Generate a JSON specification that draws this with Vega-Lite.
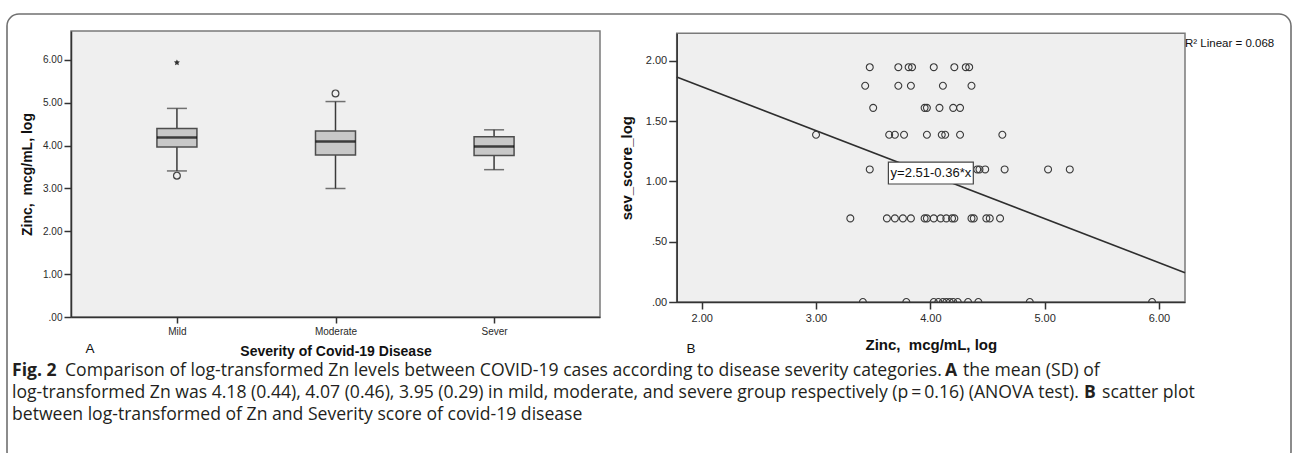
{
  "$schema": "https://vega.github.io/schema/vega-lite/v6.json",
  "width": 1284,
  "height": 450,
  "autosize": {"type": "none"},
  "padding": {"left": 7, "top": 14, "right": 1, "bottom": 0},
  "background": "white",
  "config": {
    "view": {"stroke": "#707070", "strokeWidth": 1.6, "cornerRadius": 12, "fill": "white"},
    "font": "Liberation Sans",
    "axis": {"grid": false, "labelFont": "Liberation Sans", "titleFont": "Liberation Sans", "labelColor": "#2a2a2a", "titleColor": "#111111", "domainColor": "#333333", "tickColor": "#333333", "domainWidth": 1.5, "tickWidth": 1.5, "titleFontWeight": "bold"},
    "text": {"font": "Liberation Sans"}
  },
  "datasets": {
    "one": [{}],
    "boxstats": [
      {"severity": "Mild", "lower": 3.41, "q1": 3.97, "median": 4.19, "q3": 4.40, "upper": 4.87},
      {"severity": "Moderate", "lower": 3.00, "q1": 3.78, "median": 4.10, "q3": 4.34, "upper": 5.03},
      {"severity": "Sever", "lower": 3.44, "q1": 3.77, "median": 3.98, "q3": 4.21, "upper": 4.37}
    ],
    "outliers": [
      {"severity": "Mild", "zinc": 3.30, "kind": "outlier"},
      {"severity": "Mild", "zinc": 5.94, "kind": "extreme"},
      {"severity": "Moderate", "zinc": 5.22, "kind": "outlier"}
    ],
    "scatter": [
      {"zinc": 3.47, "sev": 1.946}, {"zinc": 3.72, "sev": 1.946}, {"zinc": 3.81, "sev": 1.946}, {"zinc": 3.84, "sev": 1.946},
      {"zinc": 4.03, "sev": 1.946}, {"zinc": 4.21, "sev": 1.946}, {"zinc": 4.31, "sev": 1.946}, {"zinc": 4.34, "sev": 1.946},
      {"zinc": 3.43, "sev": 1.792}, {"zinc": 3.72, "sev": 1.792}, {"zinc": 3.83, "sev": 1.792}, {"zinc": 4.11, "sev": 1.792}, {"zinc": 4.36, "sev": 1.792},
      {"zinc": 3.50, "sev": 1.609}, {"zinc": 3.95, "sev": 1.609}, {"zinc": 3.97, "sev": 1.609}, {"zinc": 4.08, "sev": 1.609}, {"zinc": 4.20, "sev": 1.609}, {"zinc": 4.26, "sev": 1.609},
      {"zinc": 3.00, "sev": 1.386}, {"zinc": 3.64, "sev": 1.386}, {"zinc": 3.69, "sev": 1.386}, {"zinc": 3.77, "sev": 1.386}, {"zinc": 3.97, "sev": 1.386},
      {"zinc": 4.10, "sev": 1.386}, {"zinc": 4.13, "sev": 1.386}, {"zinc": 4.26, "sev": 1.386}, {"zinc": 4.63, "sev": 1.386},
      {"zinc": 3.47, "sev": 1.099}, {"zinc": 4.41, "sev": 1.099}, {"zinc": 4.43, "sev": 1.099}, {"zinc": 4.48, "sev": 1.099}, {"zinc": 4.65, "sev": 1.099}, {"zinc": 5.03, "sev": 1.099}, {"zinc": 5.22, "sev": 1.099},
      {"zinc": 3.30, "sev": 0.693}, {"zinc": 3.62, "sev": 0.693}, {"zinc": 3.69, "sev": 0.693}, {"zinc": 3.76, "sev": 0.693}, {"zinc": 3.83, "sev": 0.693},
      {"zinc": 3.95, "sev": 0.693}, {"zinc": 3.97, "sev": 0.693}, {"zinc": 4.03, "sev": 0.693}, {"zinc": 4.09, "sev": 0.693}, {"zinc": 4.14, "sev": 0.693},
      {"zinc": 4.19, "sev": 0.693}, {"zinc": 4.21, "sev": 0.693}, {"zinc": 4.36, "sev": 0.693}, {"zinc": 4.38, "sev": 0.693}, {"zinc": 4.49, "sev": 0.693},
      {"zinc": 4.52, "sev": 0.693}, {"zinc": 4.61, "sev": 0.693},
      {"zinc": 3.41, "sev": 0}, {"zinc": 3.79, "sev": 0}, {"zinc": 4.03, "sev": 0}, {"zinc": 4.07, "sev": 0}, {"zinc": 4.11, "sev": 0},
      {"zinc": 4.14, "sev": 0}, {"zinc": 4.17, "sev": 0}, {"zinc": 4.20, "sev": 0}, {"zinc": 4.24, "sev": 0}, {"zinc": 4.33, "sev": 0},
      {"zinc": 4.42, "sev": 0}, {"zinc": 4.87, "sev": 0}, {"zinc": 5.94, "sev": 0}
    ],
    "fit": [{"zinc": 1.781, "sev": 1.865}, {"zinc": 6.228, "sev": 0.243}],
    "caption": [
      {"id": "panelA", "text": "A"},
      {"id": "panelB", "text": "B"},
      {"id": "fig", "text": "Fig. 2"},
      {"id": "l1a", "text": "Comparison of log-transformed Zn levels between COVID-19 cases according to disease severity categories."},
      {"id": "l1A", "text": "A"},
      {"id": "l1b", "text": "the mean (SD) of"},
      {"id": "l2a", "text": "log-transformed Zn was 4.18 (0.44), 4.07 (0.46), 3.95 (0.29) in mild, moderate, and severe group respectively (p\u2009=\u20090.16) (ANOVA test)."},
      {"id": "l2B", "text": "B"},
      {"id": "l2b", "text": "scatter plot"},
      {"id": "l3a", "text": "between log-transformed of Zn and Severity score of covid-19 disease"}
    ]
  },
  "layer": [
    {
      "data": {"name": "one"},
      "mark": {"type": "rect", "fill": "#efefef", "stroke": "#7a7a7a", "strokeWidth": 1.5},
      "encoding": {
        "x": {"datum": 0, "type": "quantitative", "scale": {"domain": [0, 1], "range": [64, 593], "nice": false, "zero": false}, "axis": null},
        "x2": {"datum": 1},
        "y": {"datum": 0, "type": "quantitative", "scale": {"domain": [0, 1], "range": [303, 17], "nice": false, "zero": false}, "axis": null},
        "y2": {"datum": 1}
      }
    },
    {
      "data": {"name": "boxstats"},
      "mark": {"type": "rule", "stroke": "#3a3a3a", "strokeWidth": 1.5},
      "encoding": {
        "x": {"field": "severity", "type": "nominal", "scale": {"type": "point", "domain": ["Mild", "Moderate", "Sever"], "range": [64, 593], "padding": 0.668},
              "axis": {"orient": "bottom", "offset": -147, "zindex": 1, "labelAngle": 0, "title": "Severity of Covid-19 Disease", "titleFontSize": 14, "titleBaseline": "middle", "titleY": 34.5, "labelFontSize": 10, "labelPadding": 3, "tickSize": 6}},
        "y": {"field": "lower", "type": "quantitative", "scale": {"domain": [0, 6.677], "range": [303, 17], "nice": false, "zero": false},
              "axis": {"orient": "left", "offset": -64, "zindex": 1, "values": [0, 1, 2, 3, 4, 5, 6], "labelExpr": "datum.value == 0 ? '.00' : format(datum.value, '.2f')", "labelFontSize": 10, "labelPadding": 2, "tickSize": 7, "title": "Zinc,\u00a0 mcg/mL, log", "titleFontSize": 14, "titleBaseline": "middle", "titleX": -43.5, "titleY": 160, "titleAngle": -90}},
        "y2": {"field": "upper"}
      }
    },
    {
      "data": {"name": "boxstats"},
      "mark": {"type": "tick", "color": "#3a3a3a", "size": 20, "thickness": 1.5},
      "encoding": {
        "x": {"field": "severity", "type": "nominal", "scale": {"type": "point", "domain": ["Mild", "Moderate", "Sever"], "range": [64, 593], "padding": 0.668}, "axis": null},
        "y": {"field": "lower", "type": "quantitative", "scale": {"domain": [0, 6.677], "range": [303, 17], "nice": false, "zero": false}, "axis": null}
      }
    },
    {
      "data": {"name": "boxstats"},
      "mark": {"type": "tick", "color": "#3a3a3a", "size": 20, "thickness": 1.5},
      "encoding": {
        "x": {"field": "severity", "type": "nominal", "scale": {"type": "point", "domain": ["Mild", "Moderate", "Sever"], "range": [64, 593], "padding": 0.668}, "axis": null},
        "y": {"field": "upper", "type": "quantitative", "scale": {"domain": [0, 6.677], "range": [303, 17], "nice": false, "zero": false}, "axis": null}
      }
    },
    {
      "data": {"name": "boxstats"},
      "mark": {"type": "bar", "size": 40, "fill": "#c8c8c8", "stroke": "#4d4d4d", "strokeWidth": 1.5},
      "encoding": {
        "x": {"field": "severity", "type": "nominal", "scale": {"type": "point", "domain": ["Mild", "Moderate", "Sever"], "range": [64, 593], "padding": 0.668}, "axis": null},
        "y": {"field": "q1", "type": "quantitative", "scale": {"domain": [0, 6.677], "range": [303, 17], "nice": false, "zero": false}, "axis": null},
        "y2": {"field": "q3"}
      }
    },
    {
      "data": {"name": "boxstats"},
      "mark": {"type": "tick", "color": "#000000", "size": 40, "thickness": 2.5},
      "encoding": {
        "x": {"field": "severity", "type": "nominal", "scale": {"type": "point", "domain": ["Mild", "Moderate", "Sever"], "range": [64, 593], "padding": 0.668}, "axis": null},
        "y": {"field": "median", "type": "quantitative", "scale": {"domain": [0, 6.677], "range": [303, 17], "nice": false, "zero": false}, "axis": null}
      }
    },
    {
      "data": {"name": "outliers"},
      "transform": [{"filter": "datum.kind == 'outlier'"}],
      "mark": {"type": "point", "shape": "circle", "filled": false, "stroke": "#444444", "strokeWidth": 1.2, "size": 46, "opacity": 1},
      "encoding": {
        "x": {"field": "severity", "type": "nominal", "scale": {"type": "point", "domain": ["Mild", "Moderate", "Sever"], "range": [64, 593], "padding": 0.668}, "axis": null},
        "y": {"field": "zinc", "type": "quantitative", "scale": {"domain": [0, 6.677], "range": [303, 17], "nice": false, "zero": false}, "axis": null}
      }
    },
    {
      "data": {"name": "outliers"},
      "transform": [{"filter": "datum.kind == 'extreme'"}],
      "mark": {"type": "point", "shape": "M0,-1L0.29,-0.4L0.95,-0.31L0.47,0.15L0.59,0.81L0,0.5L-0.59,0.81L-0.47,0.15L-0.95,-0.31L-0.29,-0.4Z", "filled": true, "color": "#333333", "size": 40, "opacity": 1},
      "encoding": {
        "x": {"field": "severity", "type": "nominal", "scale": {"type": "point", "domain": ["Mild", "Moderate", "Sever"], "range": [64, 593], "padding": 0.668}, "axis": null},
        "y": {"field": "zinc", "type": "quantitative", "scale": {"domain": [0, 6.677], "range": [303, 17], "nice": false, "zero": false}, "axis": null}
      }
    },
    {
      "data": {"name": "one"},
      "mark": {"type": "rect", "fill": "#efefef", "stroke": "#7a7a7a", "strokeWidth": 1.5},
      "encoding": {
        "x": {"datum": 1.781, "type": "quantitative", "scale": {"domain": [1.781, 6.228], "range": [669.7, 1178], "nice": false, "zero": false}, "axis": null},
        "x2": {"datum": 6.228},
        "y": {"datum": 0, "type": "quantitative", "scale": {"domain": [0, 2.227], "range": [288, 19.3], "nice": false, "zero": false}, "axis": null},
        "y2": {"datum": 2.227}
      }
    },
    {
      "data": {"name": "fit"},
      "mark": {"type": "line", "stroke": "#2e2e2e", "strokeWidth": 1.6},
      "encoding": {
        "x": {"field": "zinc", "type": "quantitative", "scale": {"domain": [1.781, 6.228], "range": [669.7, 1178], "nice": false, "zero": false}, "axis": null},
        "y": {"field": "sev", "type": "quantitative", "scale": {"domain": [0, 2.227], "range": [288, 19.3], "nice": false, "zero": false}, "axis": null}
      }
    },
    {
      "data": {"name": "scatter"},
      "mark": {"type": "point", "filled": false, "stroke": "#3a3a3a", "strokeWidth": 1.1, "size": 48, "opacity": 1},
      "encoding": {
        "x": {"field": "zinc", "type": "quantitative", "scale": {"domain": [1.781, 6.228], "range": [669.7, 1178], "nice": false, "zero": false},
              "axis": {"orient": "bottom", "offset": -162, "zindex": 1, "values": [2, 3, 4, 5, 6], "format": ".2f", "labelFontSize": 11, "labelPadding": 3, "tickSize": 7, "title": "Zinc,\u00a0 mcg/mL, log", "titleFontSize": 15, "titleBaseline": "middle", "titleY": 42.3}},
        "y": {"field": "sev", "type": "quantitative", "scale": {"domain": [0, 2.227], "range": [288, 19.3], "nice": false, "zero": false},
              "axis": {"orient": "left", "offset": -669.7, "zindex": 1, "values": [0, 0.5, 1, 1.5, 2], "labelExpr": "datum.value < 1 ? substring(format(datum.value, '.2f'), 1) : format(datum.value, '.2f')", "labelFontSize": 11, "labelPadding": 2, "tickSize": 8, "title": "sev_score_log", "titleFontSize": 15, "titleBaseline": "middle", "titleX": -50.7, "titleY": 153.65, "titleAngle": -90}},
        "shape": {"condition": {"test": "datum.sev == 0", "value": "M-1,0A1,1,0,0,1,1,0"}, "value": "circle"}
      }
    },
    {
      "data": {"name": "one"},
      "mark": {"type": "rect", "fill": "#ffffff", "stroke": "#444444", "strokeWidth": 1.2},
      "encoding": {
        "x": {"datum": 3.633, "type": "quantitative", "scale": {"domain": [1.781, 6.228], "range": [669.7, 1178], "nice": false, "zero": false}, "axis": null},
        "x2": {"datum": 4.376},
        "y": {"datum": 1.160, "type": "quantitative", "scale": {"domain": [0, 2.227], "range": [288, 19.3], "nice": false, "zero": false}, "axis": null},
        "y2": {"datum": 0.978}
      }
    },
    {
      "data": {"name": "one"},
      "mark": {"type": "text", "text": "y=2.51-0.36*x", "font": "Liberation Sans", "fontSize": 13, "align": "center", "baseline": "middle", "color": "#111111"},
      "encoding": {
        "x": {"datum": 4.005, "type": "quantitative", "scale": {"domain": [1.781, 6.228], "range": [669.7, 1178], "nice": false, "zero": false}, "axis": null},
        "y": {"datum": 1.069, "type": "quantitative", "scale": {"domain": [0, 2.227], "range": [288, 19.3], "nice": false, "zero": false}, "axis": null}
      }
    },
    {
      "data": {"name": "one"},
      "mark": {"type": "text", "text": "R² Linear = 0.068", "font": "Liberation Sans", "fontSize": 11.5, "align": "left", "baseline": "middle", "color": "#111111"},
      "encoding": {
        "x": {"datum": 6.228, "type": "quantitative", "scale": {"domain": [1.781, 6.228], "range": [669.7, 1178], "nice": false, "zero": false}, "axis": null},
        "y": {"datum": 2.138, "type": "quantitative", "scale": {"domain": [0, 2.227], "range": [288, 19.3], "nice": false, "zero": false}, "axis": null}
      }
    },
    {
      "data": {"name": "caption"},
      "transform": [{"filter": "datum.id == 'panelA'"}],
      "mark": {"type": "text", "align": "center", "baseline": "middle", "font": "Liberation Sans", "fontSize": 13.5, "color": "#111111"},
      "encoding": {
        "x": {"datum": 90, "type": "quantitative", "scale": {"domain": [0, 1292], "range": [-7, 1285], "nice": false, "zero": false}, "axis": null},
        "y": {"datum": 349, "type": "quantitative", "scale": {"domain": [0, 453], "range": [-14, 439], "nice": false, "zero": false}, "axis": null},
        "text": {"field": "text"}
      }
    },
    {
      "data": {"name": "caption"},
      "transform": [{"filter": "datum.id == 'panelB'"}],
      "mark": {"type": "text", "align": "center", "baseline": "middle", "font": "Liberation Sans", "fontSize": 13.5, "color": "#111111"},
      "encoding": {
        "x": {"datum": 691, "type": "quantitative", "scale": {"domain": [0, 1292], "range": [-7, 1285], "nice": false, "zero": false}, "axis": null},
        "y": {"datum": 349, "type": "quantitative", "scale": {"domain": [0, 453], "range": [-14, 439], "nice": false, "zero": false}, "axis": null},
        "text": {"field": "text"}
      }
    },
    {
      "data": {"name": "caption"},
      "transform": [{"filter": "datum.id == 'fig'"}],
      "mark": {"type": "text", "align": "left", "baseline": "middle", "font": "Open Sans", "fontSize": 17.6, "fontWeight": "bold", "color": "#231f20"},
      "encoding": {
        "x": {"datum": 12, "type": "quantitative", "scale": {"domain": [0, 1292], "range": [-7, 1285], "nice": false, "zero": false}, "axis": null},
        "y": {"datum": 370.5, "type": "quantitative", "scale": {"domain": [0, 453], "range": [-14, 439], "nice": false, "zero": false}, "axis": null},
        "text": {"field": "text"}
      }
    },
    {
      "data": {"name": "caption"},
      "transform": [{"filter": "datum.id == 'l1a'"}],
      "mark": {"type": "text", "align": "left", "baseline": "middle", "font": "Open Sans", "fontSize": 17.6, "color": "#231f20"},
      "encoding": {
        "x": {"datum": 65, "type": "quantitative", "scale": {"domain": [0, 1292], "range": [-7, 1285], "nice": false, "zero": false}, "axis": null},
        "y": {"datum": 370.5, "type": "quantitative", "scale": {"domain": [0, 453], "range": [-14, 439], "nice": false, "zero": false}, "axis": null},
        "text": {"field": "text"}
      }
    },
    {
      "data": {"name": "caption"},
      "transform": [{"filter": "datum.id == 'l1A'"}],
      "mark": {"type": "text", "align": "left", "baseline": "middle", "font": "Open Sans", "fontSize": 17.6, "fontWeight": "bold", "color": "#231f20"},
      "encoding": {
        "x": {"datum": 945, "type": "quantitative", "scale": {"domain": [0, 1292], "range": [-7, 1285], "nice": false, "zero": false}, "axis": null},
        "y": {"datum": 370.5, "type": "quantitative", "scale": {"domain": [0, 453], "range": [-14, 439], "nice": false, "zero": false}, "axis": null},
        "text": {"field": "text"}
      }
    },
    {
      "data": {"name": "caption"},
      "transform": [{"filter": "datum.id == 'l1b'"}],
      "mark": {"type": "text", "align": "left", "baseline": "middle", "font": "Open Sans", "fontSize": 17.6, "color": "#231f20"},
      "encoding": {
        "x": {"datum": 963, "type": "quantitative", "scale": {"domain": [0, 1292], "range": [-7, 1285], "nice": false, "zero": false}, "axis": null},
        "y": {"datum": 370.5, "type": "quantitative", "scale": {"domain": [0, 453], "range": [-14, 439], "nice": false, "zero": false}, "axis": null},
        "text": {"field": "text"}
      }
    },
    {
      "data": {"name": "caption"},
      "transform": [{"filter": "datum.id == 'l2a'"}],
      "mark": {"type": "text", "align": "left", "baseline": "middle", "font": "Open Sans", "fontSize": 17.6, "color": "#231f20"},
      "encoding": {
        "x": {"datum": 12, "type": "quantitative", "scale": {"domain": [0, 1292], "range": [-7, 1285], "nice": false, "zero": false}, "axis": null},
        "y": {"datum": 392.5, "type": "quantitative", "scale": {"domain": [0, 453], "range": [-14, 439], "nice": false, "zero": false}, "axis": null},
        "text": {"field": "text"}
      }
    },
    {
      "data": {"name": "caption"},
      "transform": [{"filter": "datum.id == 'l2B'"}],
      "mark": {"type": "text", "align": "left", "baseline": "middle", "font": "Open Sans", "fontSize": 17.6, "fontWeight": "bold", "color": "#231f20"},
      "encoding": {
        "x": {"datum": 1084, "type": "quantitative", "scale": {"domain": [0, 1292], "range": [-7, 1285], "nice": false, "zero": false}, "axis": null},
        "y": {"datum": 392.5, "type": "quantitative", "scale": {"domain": [0, 453], "range": [-14, 439], "nice": false, "zero": false}, "axis": null},
        "text": {"field": "text"}
      }
    },
    {
      "data": {"name": "caption"},
      "transform": [{"filter": "datum.id == 'l2b'"}],
      "mark": {"type": "text", "align": "left", "baseline": "middle", "font": "Open Sans", "fontSize": 17.6, "color": "#231f20"},
      "encoding": {
        "x": {"datum": 1102, "type": "quantitative", "scale": {"domain": [0, 1292], "range": [-7, 1285], "nice": false, "zero": false}, "axis": null},
        "y": {"datum": 392.5, "type": "quantitative", "scale": {"domain": [0, 453], "range": [-14, 439], "nice": false, "zero": false}, "axis": null},
        "text": {"field": "text"}
      }
    },
    {
      "data": {"name": "caption"},
      "transform": [{"filter": "datum.id == 'l3a'"}],
      "mark": {"type": "text", "align": "left", "baseline": "middle", "font": "Open Sans", "fontSize": 17.6, "color": "#231f20"},
      "encoding": {
        "x": {"datum": 12, "type": "quantitative", "scale": {"domain": [0, 1292], "range": [-7, 1285], "nice": false, "zero": false}, "axis": null},
        "y": {"datum": 414.5, "type": "quantitative", "scale": {"domain": [0, 453], "range": [-14, 439], "nice": false, "zero": false}, "axis": null},
        "text": {"field": "text"}
      }
    }
  ],
  "resolve": {
    "scale": {"x": "independent", "y": "independent"},
    "axis": {"x": "independent", "y": "independent"}
  }
}
